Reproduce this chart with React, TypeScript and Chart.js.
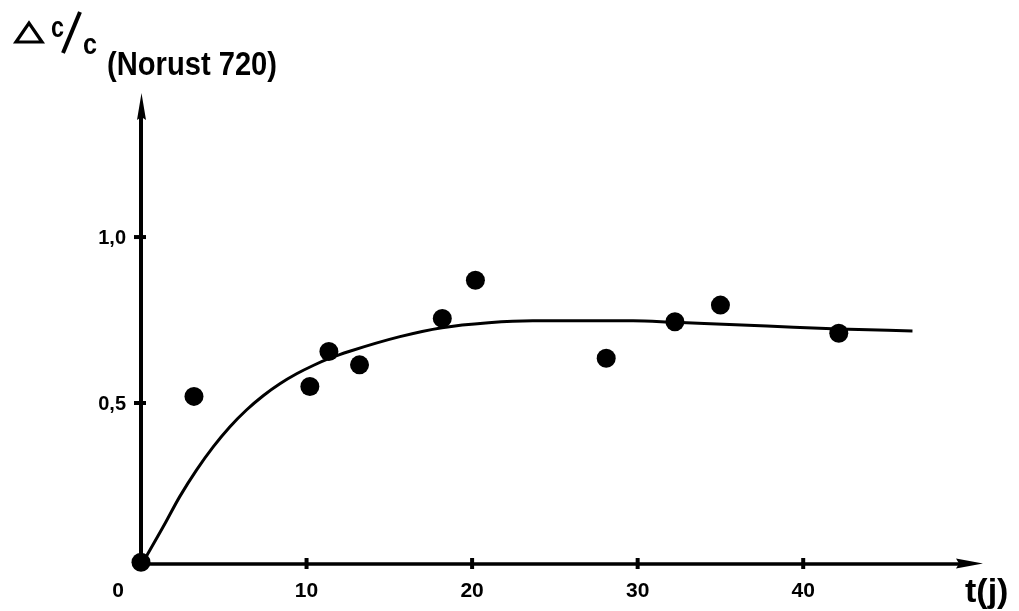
import React, { useEffect, useRef } from "react";
import { Chart, registerables } from "chart.js";

Chart.register(...registerables);

// Measured points: t (days) and Δc/c
const measuredT = [0, 3.2, 10.2, 11.35, 13.2, 18.2, 20.2, 28.1, 32.25, 35.0, 42.15];
const measuredV = [0.02, 0.52, 0.55, 0.655, 0.615, 0.755, 0.87, 0.635, 0.745, 0.795, 0.71];

// Fitted curve
const curveT = [0, 1.34, 2.34, 3.35, 4.36, 5.36, 6.37, 7.38, 8.39, 9.4, 10.4, 11.41, 12.61, 15.64, 18.18, 21.0, 23.67, 29.72, 32.25, 37.81, 42.16, 46.6];
const curveV = [0.01, 0.127, 0.218, 0.298, 0.368, 0.428, 0.479, 0.522, 0.558, 0.588, 0.613, 0.635, 0.656, 0.7, 0.727, 0.742, 0.748, 0.748, 0.743, 0.732, 0.723, 0.717];

// Axis ticks
const xTicks = [0, 10, 20, 30, 40];
const xTickLabels = ["0", "10", "20", "30", "40"];
const yTicks = [0.5, 1.0];
const yTickLabels = ["0,5", "1,0"];

const X_MIN = 0;
const X_MAX = 50.86;
const Y_MIN = 0.015;
const Y_MAX = 1.434;

const axesPlugin = {
  id: "handAxes",
  beforeDatasetsDraw(chart: any) {
    const { ctx, chartArea, scales } = chart;
    const xs = scales.x;
    const ys = scales.y;
    const x0 = xs.getPixelForValue(0);
    const yb = chartArea.bottom;
    const yt = chartArea.top;
    const xr = chartArea.right;
    ctx.save();
    ctx.strokeStyle = "#000";
    ctx.fillStyle = "#000";
    ctx.lineCap = "butt";

    // y axis
    ctx.lineWidth = 4;
    ctx.beginPath();
    ctx.moveTo(x0, yb + 2);
    ctx.lineTo(x0, yt + 20);
    ctx.stroke();
    ctx.beginPath();
    ctx.moveTo(x0 + 0.5, yt);
    ctx.lineTo(x0 + 5, yt + 27);
    ctx.lineTo(x0 + 0.5, yt + 24);
    ctx.lineTo(x0 - 4, yt + 27);
    ctx.closePath();
    ctx.fill();

    // x axis
    ctx.lineWidth = 3.5;
    ctx.beginPath();
    ctx.moveTo(x0 - 2, yb);
    ctx.lineTo(xr - 20, yb);
    ctx.stroke();
    ctx.beginPath();
    ctx.moveTo(xr, yb - 0.5);
    ctx.lineTo(xr - 27, yb - 5.5);
    ctx.lineTo(xr - 24, yb - 0.5);
    ctx.lineTo(xr - 27, yb + 4.5);
    ctx.closePath();
    ctx.fill();

    // x ticks and labels
    ctx.font = "bold 21px 'Liberation Sans', Arial, sans-serif";
    ctx.textAlign = "center";
    ctx.textBaseline = "middle";
    xTicks.forEach((t, i) => {
      const px = xs.getPixelForValue(t);
      if (t !== 0) {
        ctx.lineWidth = 4;
        ctx.beginPath();
        ctx.moveTo(px, yb - 6);
        ctx.lineTo(px, yb + 5);
        ctx.stroke();
        ctx.fillText(xTickLabels[i], px, yb + 27);
      } else {
        ctx.fillText(xTickLabels[i], px - 23, yb + 27);
      }
    });

    // y ticks and labels
    ctx.font = "bold 20px 'Liberation Sans', Arial, sans-serif";
    ctx.textAlign = "right";
    yTicks.forEach((v, i) => {
      const py = ys.getPixelForValue(v);
      ctx.lineWidth = 4;
      ctx.beginPath();
      ctx.moveTo(x0 - 7, py);
      ctx.lineTo(x0 + 5, py);
      ctx.stroke();
      ctx.fillText(yTickLabels[i], x0 - 15, py + 1);
    });

    // y-axis title: Δ c/c (Norust 720)
    ctx.lineWidth = 3.2;
    ctx.lineJoin = "miter";
    ctx.beginPath();
    ctx.moveTo(16, 42);
    ctx.lineTo(42, 42);
    ctx.lineTo(29, 23);
    ctx.closePath();
    ctx.stroke();

    ctx.textAlign = "left";
    ctx.textBaseline = "alphabetic";
    ctx.font = "bold 30px 'Liberation Sans', Arial, sans-serif";
    ctx.fillText("c", 51, 37, 13);
    ctx.lineWidth = 4;
    ctx.beginPath();
    ctx.moveTo(63, 53);
    ctx.lineTo(80, 12);
    ctx.stroke();
    ctx.fillText("c", 83, 54, 14);
    ctx.font = "bold 33px 'Liberation Sans', Arial, sans-serif";
    ctx.fillText("(Norust 720)", 107, 75, 170);

    // x-axis title
    ctx.font = "bold 34px 'Liberation Sans', Arial, sans-serif";
    ctx.fillText("t(j)", 965, 602, 48);

    ctx.restore();
  },
};

export default function App() {
  const canvasRef = useRef<HTMLCanvasElement | null>(null);

  useEffect(() => {
    const canvas = canvasRef.current;
    if (!canvas) return;
    const chart = new Chart(canvas, {
      type: "scatter",
      data: {
        datasets: [
          {
            label: "Courbe",
            data: curveT.map((t, i) => ({ x: t, y: curveV[i] })),
            showLine: true,
            borderColor: "#000",
            borderWidth: 3,
            pointRadius: 0,
            cubicInterpolationMode: "monotone",
            clip: false,
          } as any,
          {
            label: "Mesures",
            data: measuredT.map((t, i) => ({ x: t, y: measuredV[i] })),
            backgroundColor: "#000",
            borderColor: "#000",
            borderWidth: 0,
            pointRadius: 9.5,
            clip: false,
          } as any,
        ],
      },
      options: {
        animation: false,
        responsive: false,
        events: [],
        layout: { padding: { left: 141, right: 36, top: 93, bottom: 47 } },
        scales: {
          x: { type: "linear", min: X_MIN, max: X_MAX, display: false },
          y: { type: "linear", min: Y_MIN, max: Y_MAX, display: false },
        },
        plugins: {
          legend: { display: false },
          tooltip: { enabled: false },
        },
      },
      plugins: [axesPlugin],
    });
    return () => chart.destroy();
  }, []);

  return (
    <div style={{ position: "fixed", left: 0, top: 0, width: 1019, height: 611, background: "#fff" }}>
      <canvas ref={canvasRef} width={1019} height={611} style={{ display: "block" }} />
    </div>
  );
}
